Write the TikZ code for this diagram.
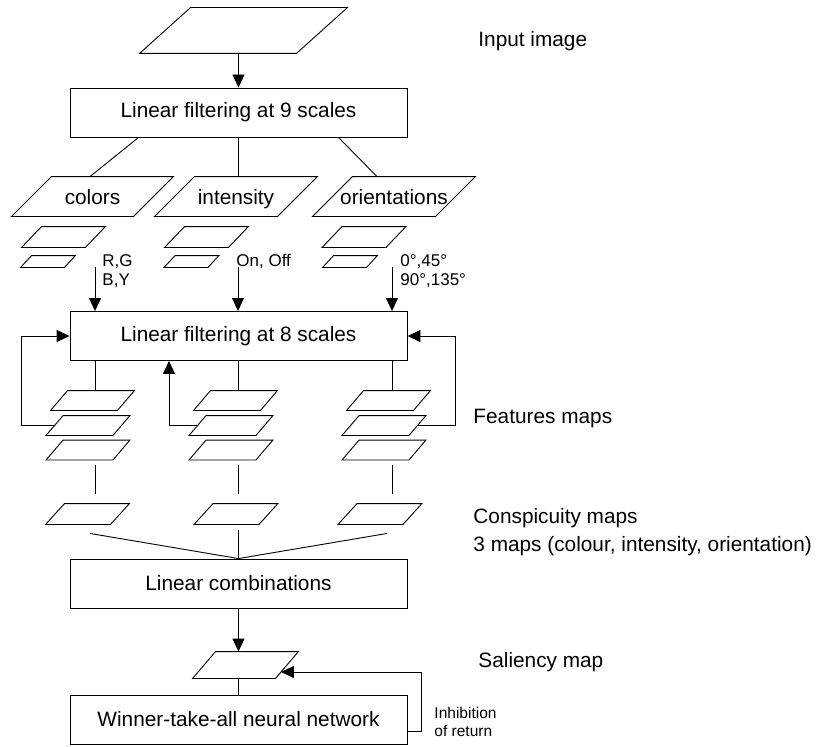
\documentclass[tikz,border=0pt]{standalone}
\usepackage{fontspec}
\setmainfont{Liberation Sans}
\usetikzlibrary{positioning,arrows.meta}
\tikzset{
    >={Triangle[length=13pt,width=12pt]},
    stage/.style = {draw, minimum width=337pt, minimum height=49pt, inner sep=0pt},
    map/.style = {inner sep=0pt},
    channel/.style = {map, minimum width=122pt, minimum height=39pt, text height=16pt, text depth=0pt},
    feat/.style = {map, minimum width=66pt, minimum height=19pt},
    note/.style = {inner sep=0pt, anchor=north west, align=left},
    side/.style = {inner sep=0pt, anchor=base west},
}
% outline of a map node: #1 node name, #2 slant
\newcommand{\pgram}[2]{%
    \draw ([xshift=-#2*0.5pt]#1.south west) -- ([xshift=#2*0.5pt]#1.north west)
        -- ([xshift=#2*0.5pt]#1.north east) -- ([xshift=-#2*0.5pt]#1.south east) -- cycle;}

\begin{document}
\begin{tikzpicture}[x=1pt, y=-1pt, line width=0.9pt, font=\fontsize{20.8}{25}\selectfont]
    \useasboundingbox (0,0) rectangle (818,746);

    % input image and first filtering
    \node (input) [map, minimum width=156pt, minimum height=45pt] at (243.5,30.5) {};
    \pgram{input}{51}
    \node (filt9) [stage] at (238.5,112.5) {Linear filtering at 9 scales};
    \draw [->] (filt9.north |- input.south) -- (filt9.north);

    % channels
    \node (colors) [channel, minimum width=121pt] at (92.5,196.5) {colors};
    \node (intens) [channel] at (236,196.5) {intensity};
    \node (orient) [channel] at (394,196.5) {orientations};
    \pgram{colors}{40}
    \pgram{intens}{40}
    \pgram{orient}{40}
    \draw ([xshift=-100pt]filt9.south) -- ([xshift=-2.5pt]colors.north);
    \draw (filt9.south) -- (filt9.south |- intens.north);
    \draw ([xshift=100pt]filt9.south) -- ([xshift=-17pt]orient.north);

    % pyramids of each channel
    \node (colA) [map, minimum width=63pt, minimum height=20pt] at (63.5,237) {};
    \node (colB) [map, minimum width=43pt, minimum height=11pt] at (48,261.5) {};
    \node (intA) [map, minimum width=63pt, minimum height=20pt] at (206.5,237) {};
    \node (intB) [map, minimum width=43pt, minimum height=11pt] at (191.5,261.5) {};
    \node (oriA) [map, minimum width=63pt, minimum height=20pt] at (364,237) {};
    \node (oriB) [map, minimum width=43pt, minimum height=11pt] at (350,261.5) {};
    \foreach \n in {colA, intA, oriA} {\pgram{\n}{20}}
    \foreach \n in {colB, intB, oriB} {\pgram{\n}{11}}

    \node (rgby) [note, font=\fontsize{17}{19}\selectfont] at (102,254) {R,G\\B,Y};
    \node (onoff) [note, font=\fontsize{17}{19}\selectfont] at (236,254) {On, Off};
    \node (angles) [note, font=\fontsize{17}{19}\selectfont] at (400,254) {0°,45°\\90°,135°};

    \coordinate (laneA) at (95,0);
    \coordinate (laneB) at (238,0);
    \coordinate (laneC) at (392,0);

    \node (filt8) [stage] at (238.5,336) {Linear filtering at 8 scales};
    \draw [->] (laneA |- colB.south) -- (laneA |- filt8.north);
    \draw [->] (laneB |- intB.south) -- (laneB |- filt8.north);
    \draw [->] (laneC |- oriB.south) -- (laneC |- filt8.north);

    % feature maps
    \foreach \g/\x in {A/92.5, B/235.5, C/388.5} {
        \node (fm\g1) [feat] at (\x,400.5) {};
        \node (fm\g2) [feat] at (\x-4.5,425.5) {};
        \node (fm\g3) [feat] at (\x-4.5,450) {};
        \pgram{fm\g1}{17}
        \pgram{fm\g2}{17}
        \pgram{fm\g3}{17}
        \draw (lane\g |- filt8.south) -- (lane\g |- fm\g1.north);
    }
    \draw [->] (fmA2.west) -- ++(-33,0) |- (filt8.west);
    \draw [->] (fmB2.west) -| ([xshift=-69.5pt]filt8.south);
    \draw [->] (fmC2.east) -- ++(38,0) |- (filt8.east);

    % conspicuity maps
    \node (cmA) [map, minimum width=64pt, minimum height=20pt] at (87.5,514) {};
    \node (cmB) [map, minimum width=64pt, minimum height=20pt] at (236,514) {};
    \node (cmC) [map, minimum width=64pt, minimum height=20pt] at (380,514) {};
    \foreach \n in {cmA, cmB, cmC} {\pgram{\n}{19}}
    \draw ([yshift=-5pt]laneA |- fmA3.south) -- ([yshift=10pt]laneA |- cmA.north);
    \draw ([yshift=-5pt]laneB |- fmB3.south) -- ([yshift=10pt]laneB |- cmB.north);
    \draw ([yshift=-5pt]laneC |- fmC3.south) -- ([yshift=10pt]laneC |- cmC.north);

    \node (comb) [stage] at (238.5,583.5) {Linear combinations};
    \draw ([xshift=2.5pt,yshift=-9pt]cmA.south) -- (comb.north);
    \draw ([xshift=7pt,yshift=-9pt]cmC.south) -- (comb.north);
    \draw (comb.north |- cmB.south) ++(0,6) -- (comb.north);

    % saliency and winner-take-all
    \node (sal) [map, minimum width=82pt, minimum height=26pt] at (245.5,665) {};
    \pgram{sal}{23}
    \node (wta) [stage] at (238.5,719.5) {Winner-take-all neural network};
    \draw [->] (comb.south) -- (comb.south |- sal.north);
    \draw (sal.south -| wta.north) -- (wta.north);
    \draw [->] ([yshift=-11.5pt]wta.east) -- ++(14,0) |- ([xshift=-6pt,yshift=-7pt]sal.east);

    % captions on the right
    \node (capInput) [side] at (478,47) {Input image};
    \node (capFeat) [side] at (473,423) {Features maps};
    \node (capCons) [note, font=\fontsize{20.8}{28}\selectfont] at (473,507.5)
        {Conspicuity maps\\3 maps (colour, intensity, orientation)};
    \node (capSal) [side] at (478,667) {Saliency map};
    \node (capInhib) [note, font=\fontsize{15.5}{18}\selectfont] at (434,706.5) {Inhibition\\of return};
\end{tikzpicture}
\end{document}
